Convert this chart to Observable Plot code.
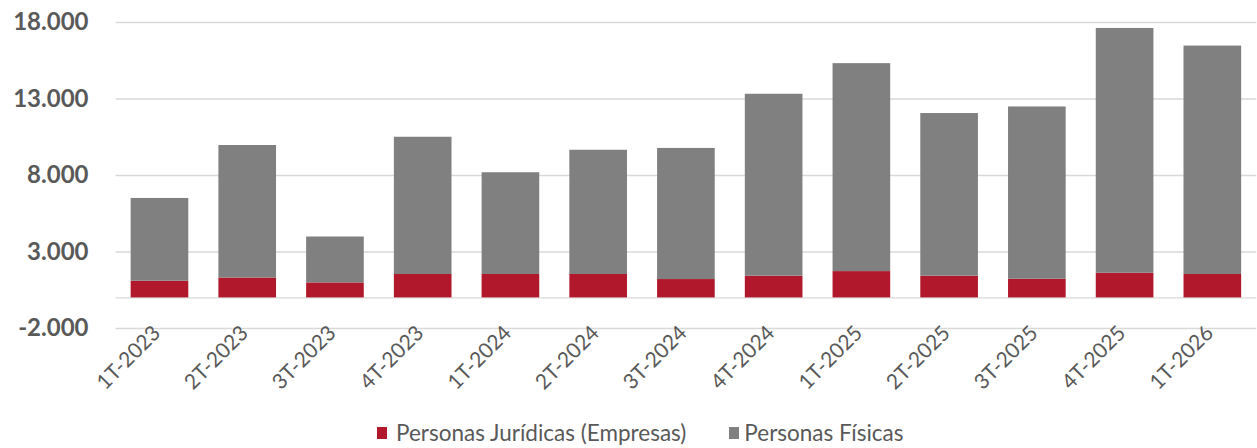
<!DOCTYPE html>
<html>
<head>
<meta charset="utf-8">
<script src="https://cdn.jsdelivr.net/npm/d3@7"></script>
<script src="https://cdn.jsdelivr.net/npm/@observablehq/plot@0.6"></script>
<style>
  html, body { margin: 0; padding: 0; background: #fff; }
  body { position: relative; width: 1257px; height: 448px; overflow: hidden; font-family: Lato, "Open Sans", sans-serif; }
  #chart { height: 420px; overflow: hidden; }
  #legend { position: absolute; left: 377px; top: 423px; display: flex; align-items: center; font-size: 22.5px; color: #595959; line-height: 20px; height: 20px; }
  #legend .item { display: flex; align-items: center; }
  #legend .sw { width: 10px; height: 12px; display: inline-block; }
</style>
</head>
<body>
<div id="chart"></div>
<div id="legend"></div>
<script>
const quarters = ["1T-2023","2T-2023","3T-2023","4T-2023","1T-2024","2T-2024","3T-2024","4T-2024","1T-2025","2T-2025","3T-2025","4T-2025","1T-2026"];
const juridicas = [1090, 1300, 980, 1530, 1530, 1530, 1200, 1420, 1720, 1420, 1220, 1610, 1530];
const fisicas   = [5410, 8660, 3000, 8970, 6650, 8120, 8570, 11890, 13590, 10630, 11260, 16000, 14930];
const seriesNames = ["Personas Jurídicas (Empresas)", "Personas Físicas"];
const seriesColors = ["#B2182B", "#808080"];
const yTicks = [-2000, 3000, 8000, 13000, 18000];

const rows = [];
quarters.forEach((q, i) => {
  rows.push({q, serie: seriesNames[0], value: juridicas[i]});
  rows.push({q, serie: seriesNames[1], value: fisicas[i]});
});

const locale = d3.formatLocale({decimal: ",", thousands: ".", grouping: [3], currency: ["", "€"], minus: "-"});
const fmt = locale.format(",");

const chart = Plot.plot({
  width: 1257,
  height: 420,
  marginTop: 22,
  marginBottom: 92,
  marginLeft: 115.6,
  marginRight: 0.8,
  style: {fontFamily: "Lato, 'Open Sans', sans-serif", color: "#595959", background: "#fff"},
  x: {domain: quarters, paddingInner: 0.343, paddingOuter: 0.1715, round: false, label: null},
  y: {domain: [-2000, 18000], label: null},
  color: {domain: seriesNames, range: seriesColors},
  marks: [
    Plot.gridY(yTicks, {stroke: "#D9D9D9", strokeOpacity: 1, strokeWidth: 1.3}),
    Plot.ruleY([0], {stroke: "#D9D9D9", strokeWidth: 1.3}),
    Plot.barY(rows, {x: "q", y: "value", fill: "serie", order: seriesNames}),
    Plot.axisY({ticks: yTicks, tickFormat: fmt, tickSize: 0, tickPadding: 27.6, fontSize: 24, fontWeight: "bold", fill: "#595959"}),
    Plot.axisX({tickRotate: -45, tickSize: 0, tickPadding: 1, dx: -3, fontSize: 21, fill: "#595959"})
  ]
});
document.getElementById("chart").appendChild(chart);

const leg = document.getElementById("legend");
seriesNames.forEach((name, i) => {
  const item = document.createElement("span");
  item.className = "item";
  item.style.marginRight = i === 0 ? "43px" : "0";
  const sw = document.createElement("span");
  sw.className = "sw";
  sw.style.background = seriesColors[i];
  sw.style.marginRight = i === 0 ? "9px" : "5px";
  const t = document.createElement("span");
  t.textContent = name;
  item.appendChild(sw);
  item.appendChild(t);
  leg.appendChild(item);
});
</script>
</body>
</html>
